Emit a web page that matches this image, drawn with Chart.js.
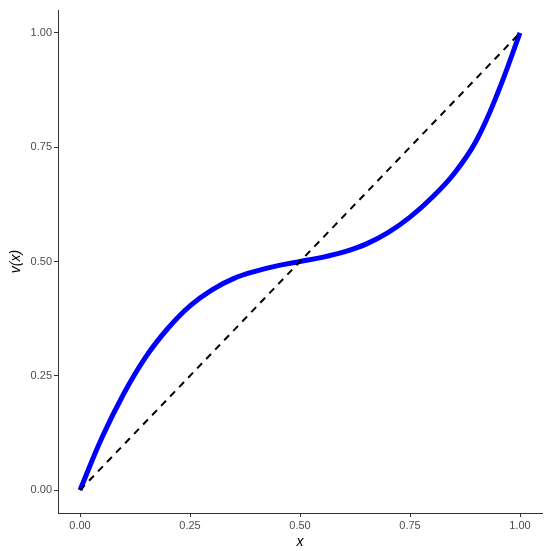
<!DOCTYPE html>
<html>
<head>
<meta charset="utf-8">
<script src="https://cdn.jsdelivr.net/npm/chart.js@4.4.1/dist/chart.umd.min.js"></script>
<style>
  html, body { margin: 0; padding: 0; background: #fff; }
  #wrap { width: 550px; height: 551px; }
</style>
</head>
<body>
<div id="wrap"><canvas id="chart"></canvas></div>
<script>
// values
const xs = [0, 0.05, 0.10, 0.15, 0.20, 0.25, 0.30, 0.35, 0.40, 0.45, 0.50,
            0.55, 0.60, 0.65, 0.70, 0.75, 0.80, 0.85, 0.90, 0.95, 1.00];
const vx = [0, 0.115, 0.212, 0.292, 0.354, 0.403, 0.438, 0.463, 0.479, 0.491, 0.50,
            0.509, 0.521, 0.538, 0.563, 0.597, 0.640, 0.692, 0.763, 0.870, 1.00];
const diagX = [0, 1];
const diagY = [0, 1];
const tickVals = [0, 0.25, 0.5, 0.75, 1];

const curve = xs.map((x, i) => ({ x: x, y: vx[i] }));
const diag = diagX.map((x, i) => ({ x: x, y: diagY[i] }));

function setTicks(scale) {
    scale.ticks = tickVals.map(v => ({ value: v }));
}

const tickFont = { family: 'Liberation Sans, Arial, sans-serif', size: 11 };
const axisGrid = { display: true, drawOnChartArea: false, drawTicks: true, tickLength: 4, color: '#333333' };

new Chart(document.getElementById('chart'), {
    type: 'scatter',
    data: {
        datasets: [
            {
                data: diag,
                showLine: true,
                borderColor: '#000000',
                borderWidth: 2,
                borderDash: [7, 6],
                pointRadius: 0,
                fill: false
            },
            {
                data: curve,
                showLine: true,
                borderColor: '#0000FF',
                borderWidth: 5,
                tension: 0.4,
                pointRadius: 0,
                fill: false
            }
        ]
    },
    options: {
        responsive: true,
        maintainAspectRatio: false,
        animation: false,
        layout: { padding: { top: 10, right: 8, left: 0, bottom: 0 } },
        plugins: { legend: { display: false }, tooltip: { enabled: false } },
        scales: {
            x: {
                type: 'linear',
                min: -0.05,
                max: 1.05,
                afterBuildTicks: setTicks,
                afterFit: s => { s.height = 38; },
                grid: axisGrid,
                border: { display: true, color: '#333333', width: 1 },
                ticks: {
                    color: '#4D4D4D',
                    font: tickFont,
                    padding: 2,
                    maxRotation: 0,
                    callback: v => v.toFixed(2)
                },
                title: {
                    display: true,
                    text: 'x',
                    color: '#000000',
                    font: { family: 'Liberation Sans, Arial, sans-serif', size: 14, style: 'italic' },
                    padding: { top: -2, bottom: 0 }
                }
            },
            y: {
                type: 'linear',
                min: -0.05,
                max: 1.05,
                afterBuildTicks: setTicks,
                afterFit: s => { s.width = 58; },
                grid: axisGrid,
                border: { display: true, color: '#333333', width: 1 },
                ticks: {
                    color: '#4D4D4D',
                    font: tickFont,
                    padding: 2,
                    callback: v => v.toFixed(2)
                },
                title: {
                    display: true,
                    text: 'v(x)',
                    color: '#000000',
                    font: { family: 'Liberation Sans, Arial, sans-serif', size: 14, style: 'italic' },
                    padding: { top: 8, bottom: 0 }
                }
            }
        }
    }
});
</script>
</body>
</html>
